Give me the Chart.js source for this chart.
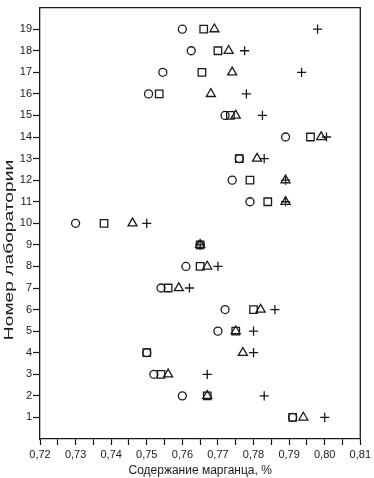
<!DOCTYPE html>
<html>
<head>
<meta charset="utf-8">
<script src="https://cdn.jsdelivr.net/npm/chart.js@4.4.1/dist/chart.umd.min.js"></script>
<style>
  html, body { margin: 0; padding: 0; background: #fff; }
  #wrap { width: 374px; height: 478px; }
</style>
</head>
<body>
<div id="wrap"><canvas id="myChart" width="374" height="478"></canvas></div>
<script>
const labs = [1, 2, 3, 4, 5, 6, 7, 8, 9, 10, 11, 12, 13, 14, 15, 16, 17, 18, 19];
// one value per laboratory, four methods (markers)
const circleVals = [0.791, 0.760, 0.752, 0.750, 0.770, 0.772, 0.754, 0.761, 0.765, 0.730,
  0.779, 0.774, 0.776, 0.789, 0.772, 0.7505, 0.7545, 0.7625, 0.760];
const squareVals = [0.791, 0.767, 0.754, 0.750, 0.775, 0.780, 0.756, 0.765, 0.765, 0.738,
  0.784, 0.779, 0.776, 0.796, 0.7735, 0.7535, 0.7655, 0.770, 0.766];
const triangleVals = [0.794, 0.767, 0.756, 0.777, 0.775, 0.782, 0.759, 0.767, 0.765, 0.746,
  0.789, 0.789, 0.781, 0.799, 0.775, 0.768, 0.774, 0.773, 0.769];
const plusVals = [0.800, 0.783, 0.767, 0.780, 0.780, 0.786, 0.762, 0.770, 0.765, 0.750,
  0.789, 0.789, 0.783, 0.8005, 0.7825, 0.778, 0.7935, 0.7775, 0.798];
const xTicks = ["0,72", "0,73", "0,74", "0,75", "0,76", "0,77", "0,78", "0,79", "0,80", "0,81"];

const ink = "#1a1a1a";
const font = { family: "Liberation Sans, Arial, sans-serif", size: 11 };

function series(vals, style, r) {
  return {
    data: vals.map((v, i) => ({ x: v, y: labs[i] })),
    pointStyle: style,
    pointRadius: r,
    pointHoverRadius: r,
    borderColor: ink,
    backgroundColor: "rgba(0,0,0,0)",
    pointBorderWidth: 1.3,
    showLine: false,
  };
}

// box round the plot + rotated y title (stretched along its length like the scan)
const frame = {
  id: "frame",
  afterDraw(chart) {
    const { ctx, chartArea: a } = chart;
    ctx.save();
    ctx.strokeStyle = ink;
    ctx.lineWidth = 1.3;
    ctx.beginPath();
    ctx.moveTo(a.left, a.top);
    ctx.lineTo(a.right, a.top);
    ctx.lineTo(a.right, a.bottom);
    ctx.stroke();
    ctx.fillStyle = ink;
    ctx.font = "12px " + font.family;
    ctx.textAlign = "center";
    ctx.textBaseline = "middle";
    ctx.translate(10, 250);
    ctx.rotate(-Math.PI / 2);
    ctx.scale(1.6, 1);
    ctx.fillText("Номер лаборатории", 0, 0);
    ctx.restore();
  },
};

const config = {
  type: "scatter",
  data: {
    datasets: [
      series(circleVals, "circle", 4),
      series(squareVals, "rect", 5.3),
      series(triangleVals, "triangle", 5.2),
      series(plusVals, "cross", 4.6),
    ],
  },
  options: {
    responsive: false,
    animation: false,
    layout: { padding: { top: 4, right: 13, left: 0, bottom: 0 } },
    plugins: { legend: { display: false }, tooltip: { enabled: false } },
    scales: {
      x: {
        type: "linear",
        min: 0.72,
        max: 0.81,
        afterBuildTicks(scale) {
          const t = [];
          for (let i = 0; i <= 18; i++) t.push({ value: +(0.72 + i * 0.005).toFixed(3) });
          scale.ticks = t;
        },
        afterFit(scale) { scale.height = 39; },
        border: { color: ink, width: 1.3 },
        grid: { drawOnChartArea: false, tickLength: 6, color: ink, tickWidth: 1.2 },
        ticks: {
          color: ink,
          font: font,
          padding: 3,
          maxRotation: 0,
          autoSkip: false,
          callback: (v, i) => (i % 2 === 0 ? xTicks[i / 2] : ""),
        },
        title: {
          display: true,
          text: "Содержание марганца, %",
          color: ink,
          font: { family: font.family, size: 12 },
          padding: { top: 1, bottom: 0 },
        },
      },
      y: {
        type: "linear",
        min: 0,
        max: 20,
        afterBuildTicks(scale) {
          scale.ticks = labs.map((v) => ({ value: v }));
        },
        afterFit(scale) { scale.width = 40; },
        border: { color: ink, width: 1.3 },
        grid: { drawOnChartArea: false, tickLength: 7, color: ink, tickWidth: 1.2 },
        ticks: { color: ink, font: font, padding: 1, autoSkip: false },
      },
    },
  },
  plugins: [frame],
};
const ctx = document.getElementById("myChart").getContext("2d");
const myChart = new Chart(ctx, config);
</script>
</body>
</html>
